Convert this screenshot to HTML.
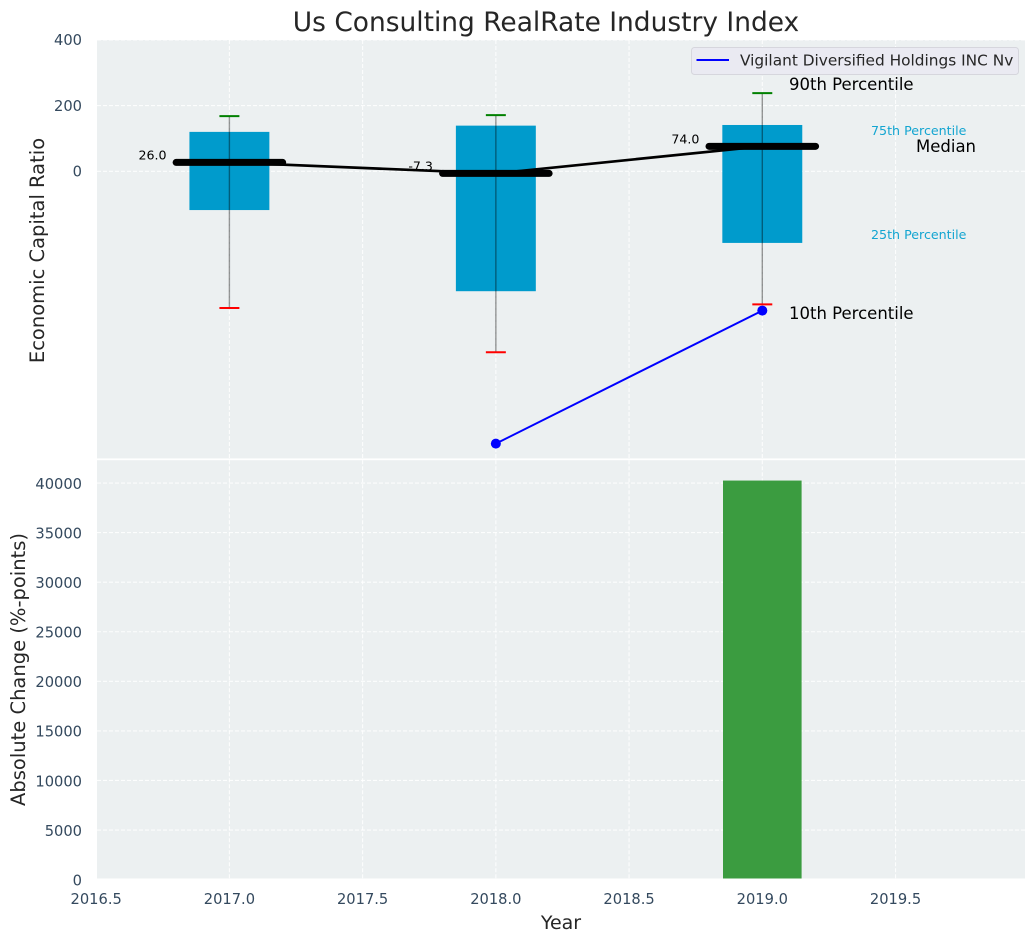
<!DOCTYPE html>
<html>
<head>
<meta charset="utf-8">
<title>Us Consulting RealRate Industry Index</title>
<style>
html,body{margin:0;padding:0;background:#fff;}
svg{display:block;}
text{font-family:"DejaVu Sans","Liberation Sans",sans-serif;}
</style>
</head>
<body>
<svg id="chart" width="1036" height="942" viewBox="0 0 1036 942">
  <rect x="97" y="40" width="928" height="418.4" fill="#ecf0f1"/>
  <rect x="97" y="460.2" width="928" height="418.3" fill="#ecf0f1"/>
  <g id="grid"></g>
  <g id="bars"></g>
  <g id="boxes"></g>
  <g id="series"></g>
  <g id="ticks"></g>
  <g id="notes">
    <text x="789" y="90" font-size="16.5" fill="#000">90th Percentile</text>
    <text x="871" y="135" font-size="12.65" fill="#13a5d1">75th Percentile</text>
    <text x="916" y="152" font-size="16.5" fill="#000">Median</text>
    <text x="871" y="239" font-size="12.65" fill="#13a5d1">25th Percentile</text>
    <text x="789" y="319" font-size="16.5" fill="#000">10th Percentile</text>
  </g>
  <g id="legend">
    <rect x="691.5" y="47.5" width="327" height="27" rx="3" fill="#eaeaf2" stroke="#d6d6dd" stroke-width="1"/>
    <line x1="696.5" y1="60" x2="729" y2="60" stroke="#0000ff" stroke-width="2"/>
    <text x="740" y="65.5" font-size="15.35" fill="#262626">Vigilant Diversified Holdings INC Nv</text>
  </g>
  <text x="546" y="31" font-size="26.45" text-anchor="middle" fill="#262626">Us Consulting RealRate Industry Index</text>
  <text transform="translate(44,250.5) rotate(-90)" font-size="19.5" text-anchor="middle" fill="#262626">Economic Capital Ratio</text>
  <text transform="translate(25,669.5) rotate(-90)" font-size="19.5" text-anchor="middle" fill="#262626">Absolute Change (%-points)</text>
  <text x="561" y="929" font-size="19" text-anchor="middle" fill="#262626">Year</text>
</svg>
<script>
// Chart data
const years = [2017, 2018, 2019];
const p90 = [168, 171, 238];
const p75 = [120, 139, 141];
const medians = [27, -6.5, 76];
const medianLabels = ['26.0', '-7.3', '74.0'];
const p25 = [-118, -365, -218];
const p10 = [-416, -551, -405];
const companyYears = [2018, 2019];
const companyValues = [-829, -424];
const changeYears = [2019];
const changeValues = [40250];
const xTicks = [2016.5, 2017.0, 2017.5, 2018.0, 2018.5, 2019.0, 2019.5];
const topYTicks = [0, 200, 400];
const bottomYTicks = [0, 5000, 10000, 15000, 20000, 25000, 30000, 35000, 40000];
const boxWidthYears = 0.3;
const medianWidthYears = 0.4;
const capWidthYears = 0.075;
const barWidthYears = 0.295;

// Axis functions
function xPos(v) { return 229.4 + (v - 2017) * 266.45; }
function topY(v) { return 171.3 - v * 0.3285; }
function bottomY(v) { return 879.6 - v * 0.009914; }

const PLOT_BOTTOM = 878.5;
const NS = 'http://www.w3.org/2000/svg';
function make(parent, tag, props) {
  const el = document.createElementNS(NS, tag);
  for (const k in props) el.setAttribute(k, props[k]);
  parent.appendChild(el);
  return el;
}
const gridG = document.getElementById('grid');
const barsG = document.getElementById('bars');
const boxesG = document.getElementById('boxes');
const seriesG = document.getElementById('series');
const ticksG = document.getElementById('ticks');
const TICK = '#34495e';
const gridStyle = {stroke: '#ffffff', 'stroke-width': 1.1, 'stroke-dasharray': '4 2', 'stroke-opacity': 0.85, fill: 'none'};

// Grid
xTicks.forEach(function (t) {
  [[40, 458.4], [460.2, PLOT_BOTTOM]].forEach(function (span) {
    const l = make(gridG, 'line', Object.assign({x1: xPos(t), x2: xPos(t), y1: span[0], y2: span[1]}, gridStyle));
    
    
  });
});
topYTicks.forEach(function (t) {
  const l = make(gridG, 'line', Object.assign({x1: 97, x2: 1025, y1: topY(t), y2: topY(t)}, gridStyle));
  
  
});
bottomYTicks.forEach(function (t) {
  if (bottomY(t) > PLOT_BOTTOM) return;
  const l = make(gridG, 'line', Object.assign({x1: 97, x2: 1025, y1: bottomY(t), y2: bottomY(t)}, gridStyle));
  
  
});

// Bars
changeYears.forEach(function (yr, i) {
  const x0 = xPos(yr - barWidthYears / 2);
  const x1 = xPos(yr + barWidthYears / 2);
  const y0 = bottomY(changeValues[i]);
  const r = make(barsG, 'rect', {x: x0, y: y0, width: x1 - x0, height: Math.min(bottomY(0), PLOT_BOTTOM) - y0, fill: '#3b9c40'});
  
  
});

// Median value labels sit underneath the lines
years.forEach(function (yr, i) {
  const t = make(boxesG, 'text', {x: xPos(yr - medianWidthYears / 2) - 9.6, y: topY(medians[i]) - 3, 'font-size': 12.6, 'text-anchor': 'end', fill: '#000'});
  t.textContent = medianLabels[i];
  
  
});

// Percentile boxes
years.forEach(function (yr, i) {
  const cx = xPos(yr);
  const x0 = xPos(yr - boxWidthYears / 2);
  const x1 = xPos(yr + boxWidthYears / 2);
  const box = make(boxesG, 'rect', {x: x0, y: topY(p75[i]), width: x1 - x0, height: topY(p25[i]) - topY(p75[i]), fill: '#009bcc'});
  
  
  const w = make(boxesG, 'line', {x1: cx, x2: cx, y1: topY(p90[i]), y2: topY(p10[i]), stroke: '#000', 'stroke-width': 1.4, 'stroke-opacity': 0.4});
  
  
  const capHalf = capWidthYears / 2;
  const capTop = make(boxesG, 'line', {x1: xPos(yr - capHalf), x2: xPos(yr + capHalf), y1: topY(p90[i]), y2: topY(p90[i]), stroke: '#008000', 'stroke-width': 2});
  
  
  const capBot = make(boxesG, 'line', {x1: xPos(yr - capHalf), x2: xPos(yr + capHalf), y1: topY(p10[i]), y2: topY(p10[i]), stroke: '#ff0000', 'stroke-width': 2});
  
  
});

// Median connecting line and thick median bars
const medianPath = make(boxesG, 'polyline', {points: years.map(function (yr, i) { return xPos(yr) + ',' + topY(medians[i]); }).join(' '), fill: 'none', stroke: '#000', 'stroke-width': 2.7});


years.forEach(function (yr, i) {
  const m = make(boxesG, 'line', {x1: xPos(yr - medianWidthYears / 2), x2: xPos(yr + medianWidthYears / 2), y1: topY(medians[i]), y2: topY(medians[i]), stroke: '#000', 'stroke-width': 7, 'stroke-linecap': 'round'});
  
  
});

// Company series
const companyLine = make(seriesG, 'polyline', {points: companyYears.map(function (yr, i) { return xPos(yr) + ',' + topY(companyValues[i]); }).join(' '), fill: 'none', stroke: '#0000ff', 'stroke-width': 2});


companyYears.forEach(function (yr, i) {
  const c = make(seriesG, 'circle', {cx: xPos(yr), cy: topY(companyValues[i]), r: 5, fill: '#0000ff'});
  
  
});

// Tick labels
xTicks.forEach(function (t) {
  const el = make(ticksG, 'text', {x: xPos(t), y: 904, 'font-size': 14.67, 'text-anchor': 'middle', fill: TICK});
  el.textContent = t.toFixed(1);
  
  
});
topYTicks.forEach(function (t) {
  const el = make(ticksG, 'text', {x: 82, y: topY(t) + 5.3, 'font-size': 14.67, 'text-anchor': 'end', fill: TICK});
  el.textContent = String(t);
  
  
});
bottomYTicks.forEach(function (t) {
  const el = make(ticksG, 'text', {x: 82, y: bottomY(t) + 5.8, 'font-size': 14.67, 'text-anchor': 'end', fill: TICK});
  el.textContent = String(t);
  
  
});
</script>
</body>
</html>
